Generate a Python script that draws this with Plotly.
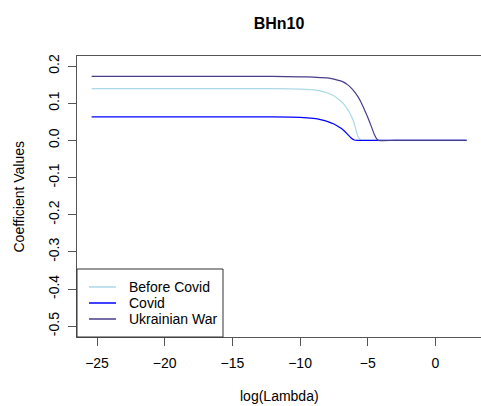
import plotly.graph_objects as go

# log(Lambda) grid shared by the three coefficient paths
log_lambda = [-25.4, -20, -15, -12, -10, -9, -8.5, -8, -7.5, -7, -6.75, -6.5, -6.25,
              -6, -5.75, -5.5, -5.25, -5, -4.75, -4.5, -4.35, -4.2, -3, 0, 2.3]

before_covid = [0.139, 0.139, 0.139, 0.139, 0.138, 0.136, 0.133, 0.128, 0.120, 0.106,
                0.097, 0.084, 0.068, 0.046, 0.013, 0.0, 0.0, 0.0, 0.0, 0.0, 0.0, 0.0,
                0.0, 0.0, 0.0]
covid = [0.063, 0.063, 0.063, 0.063, 0.062, 0.059, 0.056, 0.051, 0.044, 0.033,
         0.026, 0.017, 0.007, 0.001, 0.0, 0.0, 0.0, 0.0, 0.0, 0.0, 0.0, 0.0,
         0.0, 0.0, 0.0]
ukrainian_war = [0.172, 0.172, 0.172, 0.172, 0.171, 0.170, 0.169, 0.168, 0.165, 0.160,
                 0.156, 0.150, 0.142, 0.132, 0.119, 0.103, 0.083, 0.062, 0.039, 0.015,
                 0.005, 0.0, 0.0, 0.0, 0.0]

series_names = ["Before Covid", "Covid", "Ukrainian War"]
series_values = [before_covid, covid, ukrainian_war]
series_colors = ["#ADD8E6", "#0000FF", "#483D8B"]

x_ticks = [-25, -20, -15, -10, -5, 0]
y_ticks = [0.2, 0.1, 0.0, -0.1, -0.2, -0.3, -0.4, -0.5]
y_tick_labels = ["0.2", "0.1", "0.0", "-0.1", "-0.2", "-0.3", "-0.4", "-0.5"]

FONT = "Liberation Sans, Arial, sans-serif"

# plot-area geometry in pixels (for converting legend pixel positions to paper)
PL, PR, PT, PB = 77, 481, 56, 337


def px_x(p):
    return (p - PL) / (PR - PL)


def px_y(p):
    return (PB - p) / (PB - PT)


fig = go.Figure()
for name, vals, col in zip(series_names, series_values, series_colors):
    fig.add_trace(go.Scatter(x=log_lambda, y=vals, mode="lines", name=name,
                             showlegend=False,
                             line=dict(color=col, width=1.2, shape="spline",
                                       smoothing=0.6)))

fig.update_layout(
    width=481, height=406,
    margin=dict(l=PL, r=481 - PR, t=PT, b=406 - PB),
    paper_bgcolor="white", plot_bgcolor="white",
    font=dict(family=FONT, size=14, color="black"),
    title=dict(text="<b>BHn10</b>", x=0.5, xref="paper", xanchor="center",
               y=1 - 23 / 406, yref="container", yanchor="middle",
               font=dict(size=16, family=FONT, color="black")),
    showlegend=False,
)
fig.update_xaxes(range=[-26.48, 3.37], tickvals=x_ticks, ticks="outside",
                 ticklen=8, tickcolor="#555", showline=True, linecolor="#555",
                 linewidth=1, mirror=True, showgrid=False, zeroline=False,
                 tickfont=dict(size=14), ticklabelstandoff=5)
fig.update_yaxes(range=[-0.529, 0.227], tickvals=y_ticks, ticktext=y_tick_labels,
                 tickangle=-90, ticks="outside", ticklen=8, tickcolor="#555",
                 showline=True, linecolor="#555", linewidth=1, showgrid=False,
                 zeroline=False, tickfont=dict(size=14), ticklabelstandoff=3)

# legend box (R-style, drawn in the lower-left corner)
fig.add_shape(type="rect", xref="paper", yref="paper",
              x0=px_x(77), x1=px_x(223), y0=px_y(337), y1=px_y(269),
              line=dict(color="#333", width=1), fillcolor="white", layer="above")
row_y = [287, 303, 319]
for name, col, ry in zip(series_names, series_colors, row_y):
    fig.add_shape(type="line", xref="paper", yref="paper",
                  x0=px_x(89), x1=px_x(116), y0=px_y(ry), y1=px_y(ry),
                  line=dict(color=col, width=1.5), layer="above")
    fig.add_annotation(text=name, x=px_x(127), xref="paper", xanchor="left",
                       y=px_y(ry), yref="paper", yanchor="middle",
                       showarrow=False, font=dict(size=14))

fig.add_annotation(text="Coefficient Values", textangle=-90,
                   x=px_x(18), xref="paper", xanchor="center",
                   y=0.5, yref="paper", showarrow=False, font=dict(size=14))
fig.add_annotation(text="log(Lambda)", x=0.5, xref="paper", y=px_y(396),
                   yref="paper", showarrow=False, yanchor="middle", font=dict(size=14))

fig.write_html("out.html", config={"displayModeBar": False},
               post_script="document.body.style.margin='0px';")
